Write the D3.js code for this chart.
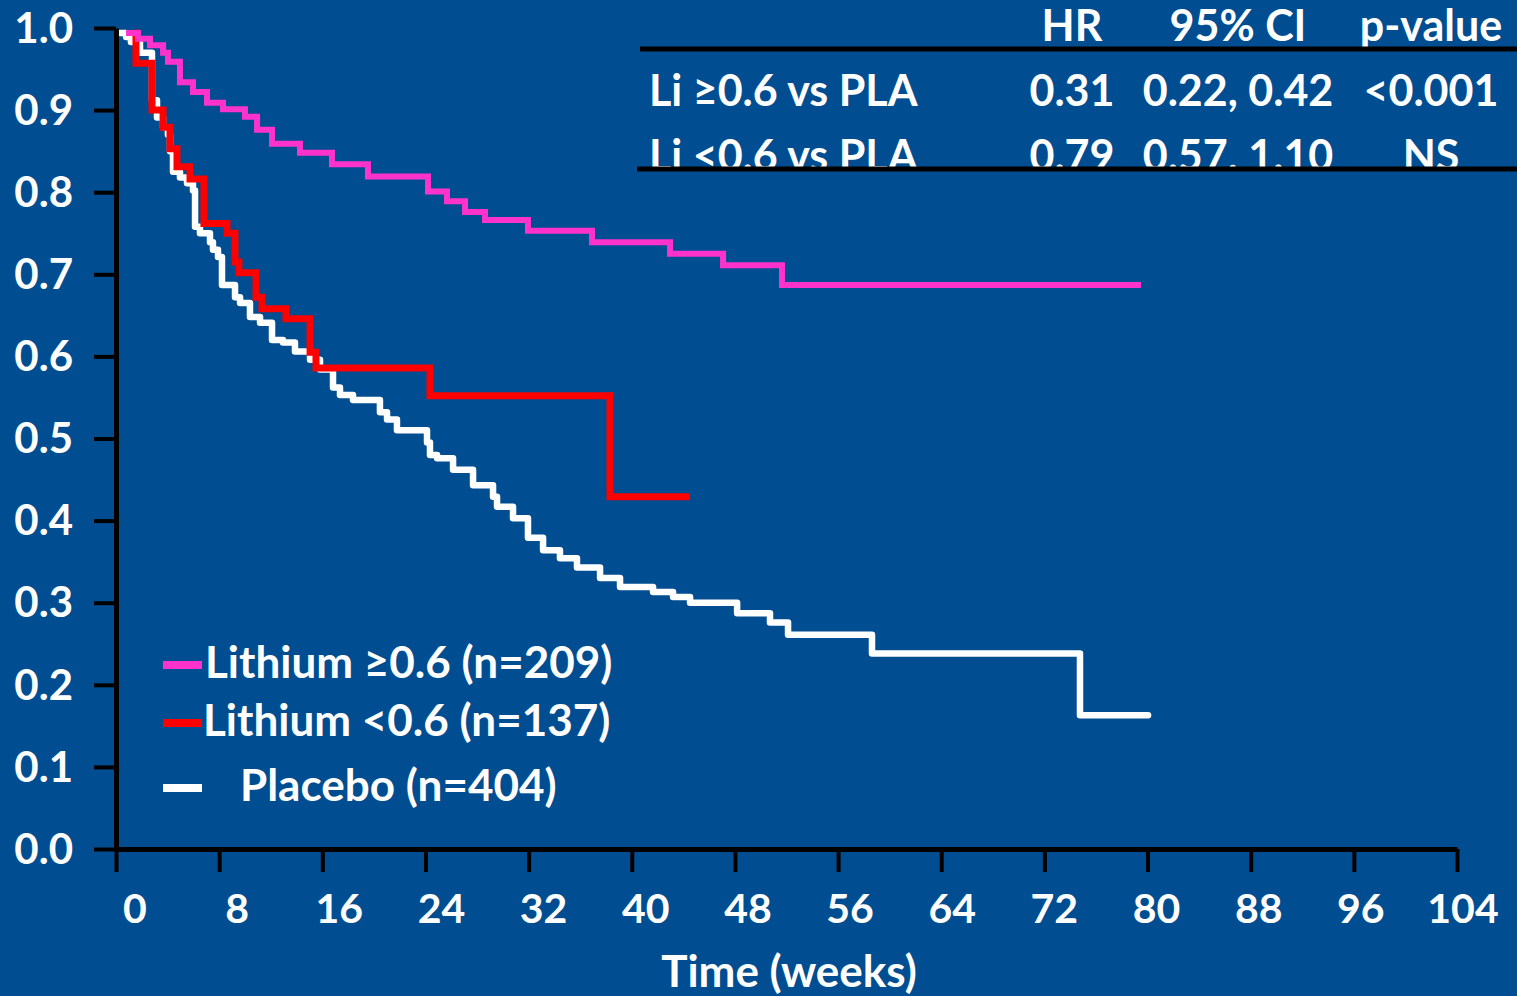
<!DOCTYPE html>
<html>
<head>
<meta charset="utf-8">
<script src="https://cdn.jsdelivr.net/npm/d3@7"></script>
<style>
  body { margin: 0; background: #004E91; }
  svg { display: block; }
  text { font-family: Lato, "Open Sans", sans-serif; font-weight: bold; fill: #fff; }
</style>
</head>
<body>
<div id="chart"></div>
<script>

// Kaplan-Meier steps: [week, proportion]
var liHigh = [[0.78,0.994],[1.71,0.987],[2.64,0.979],[3.65,0.970],[4.03,0.959],[4.96,0.934],
  [5.97,0.922],[7.06,0.909],[8.30,0.901],[10.0,0.892],[10.94,0.876],[12.1,0.859],[14.27,0.848],
  [16.75,0.834],[19.54,0.819],[24.2,0.801],[25.67,0.789],[27.07,0.776],[28.62,0.766],[31.95,0.753],
  [36.92,0.739],[42.97,0.725],[47.08,0.711],[51.65,0.687],[79.5,0.687]];

var liLow = [[1.40,0.994],[1.55,0.957],[2.79,0.900],[3.65,0.879],[4.19,0.853],[4.73,0.831],
  [5.74,0.816],[6.82,0.762],[8.61,0.750],[9.23,0.715],[9.54,0.702],[10.86,0.672],[11.32,0.658],
  [13.18,0.646],[15.05,0.605],[15.51,0.586],[24.35,0.552],[38.31,0.429],[44.52,0.429]];

var placebo = [[0.31,0.994],[0.78,0.989],[1.16,0.983],[1.86,0.970],[2.79,0.912],[3.18,0.891],
  [3.65,0.879],[4.03,0.870],[4.19,0.850],[4.42,0.825],[4.96,0.818],[5.51,0.811],[5.97,0.802],
  [6.13,0.758],[6.51,0.750],[7.29,0.739],[7.52,0.730],[7.91,0.721],[8.22,0.687],[9.23,0.672],
  [9.62,0.665],[10.39,0.648],[11.17,0.641],[12.10,0.620],[12.95,0.617],[13.88,0.606],[15.05,0.596],
  [15.82,0.584],[16.83,0.562],[17.37,0.553],[18.38,0.547],[20.47,0.532],[21.02,0.523],[21.79,0.510],
  [24.12,0.495],[24.35,0.480],[24.90,0.476],[26.14,0.462],[27.69,0.443],[29.24,0.429],[29.55,0.417],
  [30.79,0.403],[31.95,0.379],[33.12,0.364],[34.43,0.354],[35.75,0.343],[37.54,0.330],[39.09,0.319],
  [41.65,0.313],[43.20,0.307],[44.52,0.300],[48.17,0.287],[50.72,0.276],[52.12,0.261],[58.63,0.238],
  [74.76,0.163],[80.04,0.163]];

var seriesNames = ["Lithium \u22650.6 (n=209)", "Lithium <0.6 (n=137)", "Placebo (n=404)"];
var seriesColors = ["#FF33CC", "#FF0000", "#FFFFFF"];

var xTicks = [0, 8, 16, 24, 32, 40, 48, 56, 64, 72, 80, 88, 96, 104];
var yTicks = [0, 0.1, 0.2, 0.3, 0.4, 0.5, 0.6, 0.7, 0.8, 0.9, 1.0];

var tableHeader = ["", "HR", "95% CI", "p-value"];
var tableRows = [
  ["Li \u22650.6 vs PLA", "0.31", "0.22, 0.42", "<0.001"],
  ["Li <0.6 vs PLA", "0.79", "0.57, 1.10", "NS"]
];

var W = 1517, H = 996;

var svg = d3.select("#chart")
  .append("svg")
    .attr("width", W)
    .attr("height", H);

svg.append("rect")
  .attr("width", W)
  .attr("height", H)
  .attr("fill", "#004E91");

// scales
var x = d3.scaleLinear().domain([0, 104]).range([116, 1457]);
var xLab = d3.scaleLinear().domain([0, 104]).range([135, 1463]); // labels sit a bit right of the ticks
var y = d3.scaleLinear().domain([0, 1]).range([849, 28]);

// curves
var line = d3.line()
  .curve(d3.curveStepAfter)
  .x(function(d) { return x(d[0]); })
  .y(function(d) { return y(d[1]); });

var curves = [placebo, liLow, liHigh];
var curveColors = [seriesColors[2], seriesColors[1], seriesColors[0]];
var curveWidths = [6.5, 7, 6];
var curveJoins = ["round", "miter", "miter"];

curves.forEach(function(c, i) {
  svg.append("path")
    .datum(c)
    .attr("fill", "none")
    .attr("stroke", curveColors[i])
    .attr("stroke-width", curveWidths[i])
    .attr("stroke-linejoin", curveJoins[i])
    .attr("stroke-linecap", curveJoins[i] == "round" ? "round" : "butt")
    .attr("d", line);
});

// X axis
var gx = svg.append("g")
  .attr("transform", "translate(0," + y(0) + ")")
  .call(d3.axisBottom(x).tickValues(xTicks).tickSize(23).tickSizeOuter(0).tickFormat(""));
gx.select(".domain").attr("stroke", "#000").attr("stroke-width", 5);
gx.selectAll(".tick line").attr("stroke", "#000").attr("stroke-width", 4);

svg.selectAll(".xlab")
  .data(xTicks)
  .enter()
  .append("text")
    .attr("class", "xlab")
    .attr("x", function(d) { return xLab(d); })
    .attr("y", 923)
    .attr("text-anchor", "middle")
    .style("font-size", "41px")
    .text(function(d) { return d; });

svg.append("text")
  .attr("x", 789)
  .attr("y", 987)
  .attr("text-anchor", "middle")
  .style("font-size", "44px")
  .text("Time (weeks)");

// Y axis
var gy = svg.append("g")
  .attr("transform", "translate(" + x(0) + ",0)")
  .call(d3.axisLeft(y).tickValues(yTicks).tickSize(22).tickSizeOuter(0).tickFormat(d3.format(".1f")));
gy.select(".domain").attr("stroke", "#000").attr("stroke-width", 5);
gy.selectAll(".tick line").attr("stroke", "#000").attr("stroke-width", 4);
gy.selectAll(".tick text")
  .attr("x", -43)
  .attr("dy", "0.34em")
  .attr("fill", "#fff")
  .style("font-family", "Lato, sans-serif")
  .style("font-weight", "bold")
  .style("font-size", "42px");

// legend
var legY = [665, 723, 788];
var legTextX = [205, 203, 240];
seriesNames.forEach(function(name, i) {
  svg.append("line")
    .attr("x1", 163).attr("x2", 202)
    .attr("y1", legY[i]).attr("y2", legY[i])
    .attr("stroke", seriesColors[i])
    .attr("stroke-width", 8);
  svg.append("text")
    .attr("x", legTextX[i])
    .attr("y", legY[i] + 13)
    .style("font-size", "44px")
    .text(name);
});

// HR table (second row is cut by the bottom rule, as in the slide)
var colX = [649, 1072, 1238, 1431];
var colAnchor = ["start", "middle", "middle", "middle"];
var rowY = [106, 171];

svg.append("clipPath")
  .attr("id", "tabclip")
  .append("rect")
    .attr("x", 600).attr("y", 0)
    .attr("width", 917).attr("height", 168);

var tab = svg.append("g").attr("clip-path", "url(#tabclip)");

tableHeader.forEach(function(t, j) {
  tab.append("text")
    .attr("x", colX[j])
    .attr("y", 41)
    .attr("text-anchor", colAnchor[j])
    .style("font-size", "43px")
    .text(t);
});

tableRows.forEach(function(row, i) {
  row.forEach(function(t, j) {
    tab.append("text")
      .attr("x", colX[j])
      .attr("y", rowY[i])
      .attr("text-anchor", colAnchor[j])
      .style("font-size", "43px")
      .text(t);
  });
});

svg.append("line")
  .attr("x1", 640).attr("x2", W)
  .attr("y1", 49).attr("y2", 49)
  .attr("stroke", "#000").attr("stroke-width", 5);
svg.append("line")
  .attr("x1", 637).attr("x2", W)
  .attr("y1", 169).attr("y2", 169)
  .attr("stroke", "#000").attr("stroke-width", 5);

</script>
</body>
</html>
